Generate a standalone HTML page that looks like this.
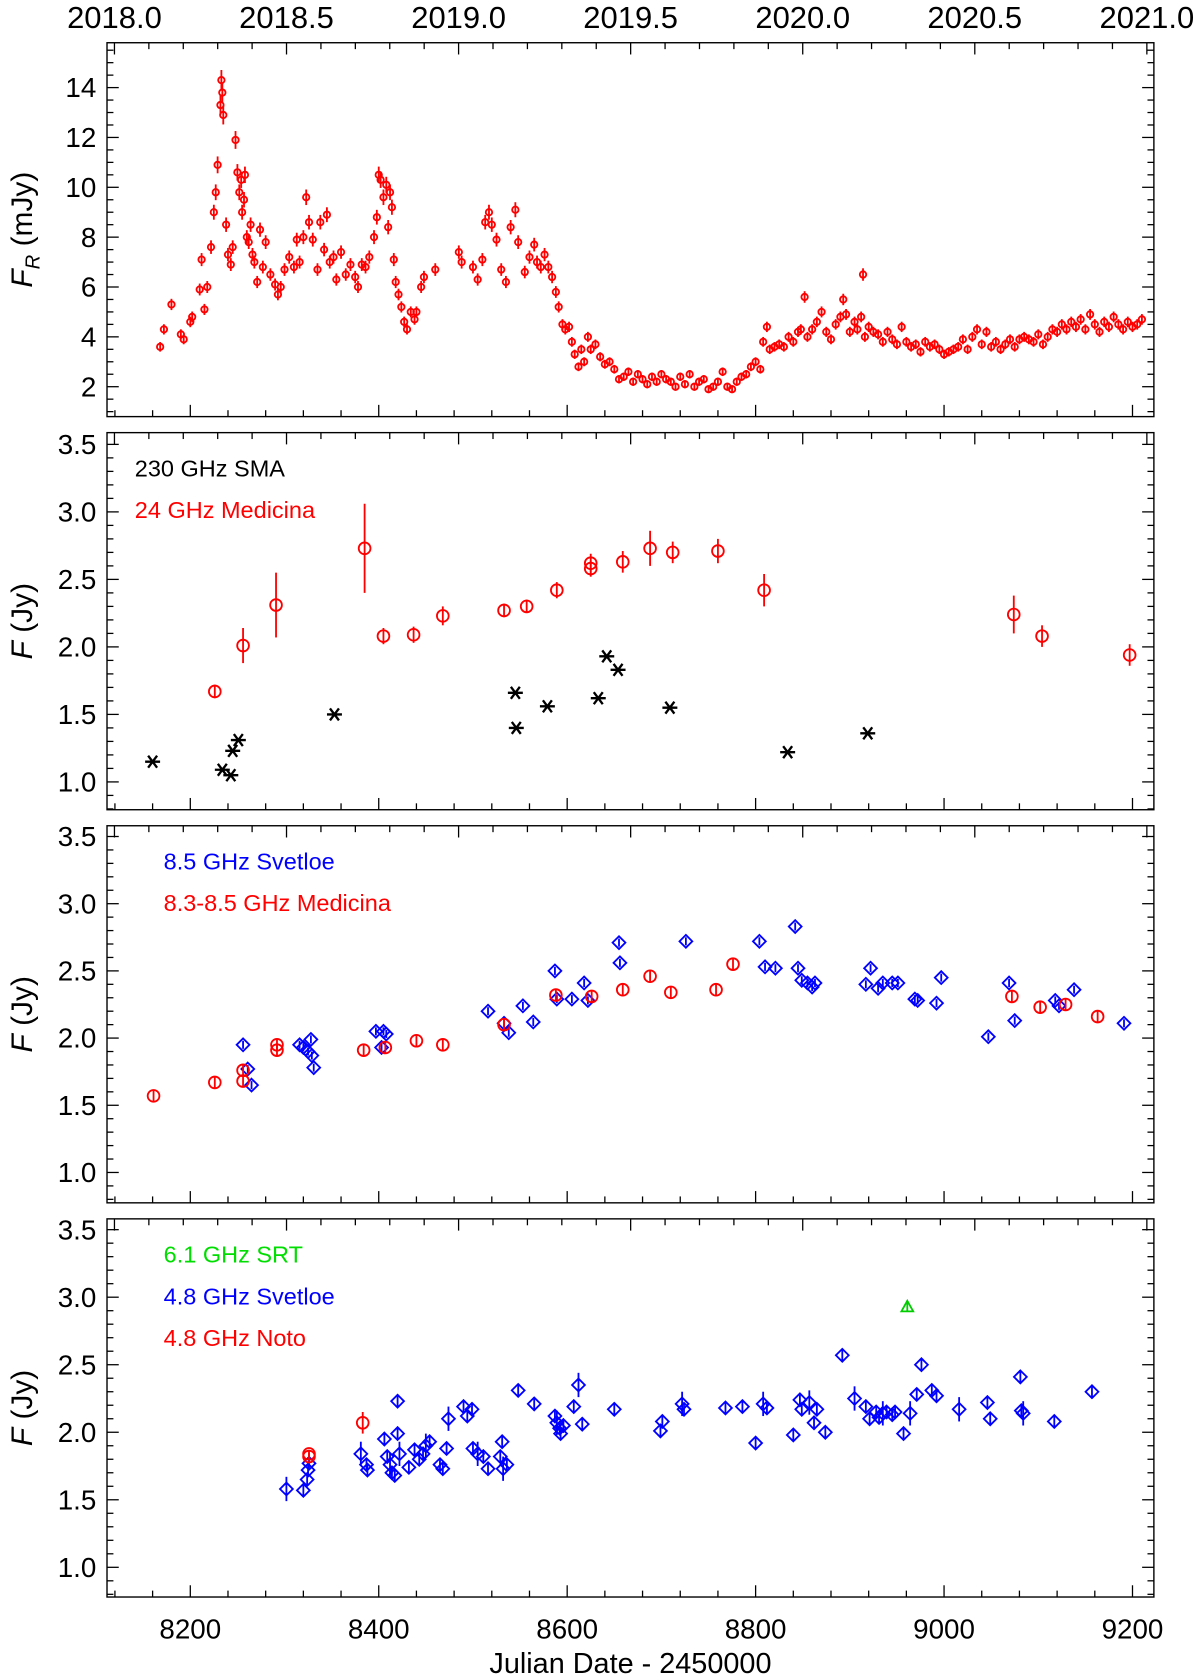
<!DOCTYPE html>
<html><head><meta charset="utf-8"><style>
html,body{margin:0;padding:0;background:#fff}
svg{display:block;font-family:"Liberation Sans",sans-serif}
</style></head><body>
<svg id="chart" width="1200" height="1675" viewBox="0 0 1123 1568" xmlns="http://www.w3.org/2000/svg"></svg>
<script>
// ---------- data ----------
const optDates=[8168,8172,8180,8190,8193,8200,8202,8210,8212,8215,8218,8222,8225,8227,8229,8232,8233,8234,8235,8238,8240,8243,8245,8248,8250,8252,8254,8255,8257,8258,8260,8262,8264,8266,8268,8271,8274,8277,8280,8285,8290,8293,8296,8300,8305,8310,8313,8316,8320,8323,8326,8330,8335,8338,8342,8345,8348,8352,8355,8360,8365,8370,8375,8378,8382,8386,8390,8395,8398,8400,8402,8405,8408,8410,8412,8414,8416,8418,8421,8424,8427,8430,8434,8438,8440,8445,8448,8460,8485,8488,8500,8505,8510,8513,8517,8520,8525,8530,8535,8540,8545,8548,8555,8560,8565,8568,8572,8576,8580,8584,8588,8591,8595,8598,8602,8605,8608,8612,8615,8618,8622,8625,8630,8635,8640,8645,8650,8655,8660,8665,8670,8675,8680,8685,8690,8695,8700,8705,8710,8715,8720,8725,8730,8735,8740,8745,8750,8755,8760,8765,8770,8775,8780,8785,8790,8795,8800,8805,8808,8812,8815,8820,8825,8830,8835,8840,8845,8848,8852,8855,8860,8865,8870,8875,8880,8885,8890,8893,8896,8900,8905,8908,8912,8914,8916,8920,8925,8930,8935,8940,8945,8950,8955,8960,8965,8970,8975,8980,8985,8990,8995,9000,9005,9010,9015,9020,9025,9030,9035,9040,9045,9050,9055,9060,9065,9070,9075,9080,9085,9090,9095,9100,9105,9110,9115,9120,9125,9130,9135,9140,9145,9150,9155,9160,9165,9170,9175,9180,9185,9190,9195,9200,9205,9210];
const optFlux=[3.6,4.3,5.3,4.1,3.9,4.6,4.8,5.9,7.1,5.1,6.0,7.6,9.0,9.8,10.9,13.3,14.3,13.8,12.9,8.5,7.3,6.9,7.6,11.9,10.6,9.8,10.3,9.0,9.5,10.5,8.0,7.8,8.5,7.3,7.0,6.2,8.3,6.8,7.8,6.5,6.1,5.7,6.0,6.7,7.2,6.8,7.9,7.0,8.0,9.6,8.6,7.9,6.7,8.6,7.5,8.9,7.0,7.2,6.3,7.4,6.5,6.9,6.4,6.0,6.9,6.8,7.2,8.0,8.8,10.5,10.3,9.6,10.1,8.4,9.8,9.2,7.1,6.2,5.7,5.2,4.6,4.3,5.0,4.7,5.0,6.0,6.4,6.7,7.4,7.0,6.8,6.3,7.1,8.6,9.0,8.5,7.9,6.7,6.2,8.4,9.1,7.8,6.6,7.2,7.7,7.0,6.8,7.3,6.8,6.4,5.8,5.2,4.5,4.3,4.4,3.8,3.3,2.8,3.5,3.0,4.0,3.5,3.7,3.2,2.9,3.0,2.7,2.3,2.4,2.6,2.2,2.5,2.3,2.1,2.4,2.2,2.5,2.3,2.2,2.0,2.4,2.1,2.5,2.0,2.2,2.3,1.9,2.0,2.2,2.6,2.0,1.9,2.2,2.4,2.5,2.8,3.0,2.7,3.8,4.4,3.5,3.6,3.7,3.6,4.0,3.8,4.2,4.3,5.6,4.0,4.3,4.6,5.0,4.2,3.9,4.5,4.8,5.5,4.9,4.2,4.6,4.3,4.8,6.5,4.0,4.4,4.2,4.1,3.8,4.2,3.9,3.7,4.4,3.8,3.6,3.7,3.4,3.8,3.6,3.7,3.5,3.3,3.4,3.5,3.6,3.9,3.5,4.0,4.3,3.7,4.2,3.6,3.8,3.5,3.7,3.9,3.6,3.9,4.0,3.9,3.8,4.1,3.7,4.0,4.3,4.2,4.5,4.3,4.6,4.4,4.7,4.3,4.9,4.5,4.2,4.6,4.4,4.8,4.5,4.3,4.6,4.4,4.5,4.7];

const med24Dates=[8226,8256,8291,8385,8405,8437,8468,8533,8557,8589,8625,8625,8659,8688,8712,8760,8809,9074,9104,9197];
const med24Flux=[1.67,2.01,2.31,2.73,2.08,2.09,2.23,2.27,2.30,2.42,2.62,2.58,2.63,2.73,2.70,2.71,2.42,2.24,2.08,1.94];
const med24Err=[0.05,0.13,0.24,0.33,0.06,0.06,0.07,0.05,0.05,0.06,0.07,0.06,0.08,0.13,0.08,0.09,0.12,0.14,0.08,0.08];
const sma230Dates=[8160,8234,8243,8245,8251,8353,8545,8546,8579,8633,8642,8654,8709,8834,8919];
const sma230Flux=[1.15,1.09,1.05,1.23,1.31,1.50,1.66,1.40,1.56,1.62,1.93,1.83,1.55,1.22,1.36];

const sv85Dates=[8256,8261,8265,8316,8320,8325,8328,8329,8331,8397,8403,8405,8408,8516,8533,8538,8553,8564,8587,8589,8605,8618,8622,8655,8656,8726,8804,8810,8821,8842,8845,8849,8855,8860,8863,8917,8922,8930,8935,8945,8951,8969,8972,8992,8997,9047,9069,9075,9118,9122,9138,9191];
const sv85Flux=[1.95,1.77,1.65,1.95,1.93,1.90,1.99,1.87,1.78,2.05,1.93,2.05,2.03,2.20,2.11,2.04,2.24,2.12,2.50,2.29,2.29,2.41,2.28,2.71,2.56,2.72,2.72,2.53,2.52,2.83,2.52,2.43,2.41,2.38,2.41,2.40,2.52,2.37,2.41,2.41,2.41,2.29,2.28,2.26,2.45,2.01,2.41,2.13,2.28,2.24,2.36,2.11];
const med85Dates=[8161,8226,8256,8256,8292,8292,8384,8407,8440,8468,8533,8588,8626,8659,8688,8710,8758,8776,9072,9102,9129,9163];
const med85Flux=[1.57,1.67,1.76,1.68,1.95,1.91,1.91,1.93,1.98,1.95,2.10,2.32,2.31,2.36,2.46,2.34,2.36,2.55,2.31,2.23,2.25,2.16];

const sv48Dates=[8302,8320,8324,8325,8326,8381,8387,8388,8406,8409,8412,8414,8417,8420,8420,8422,8432,8438,8443,8447,8450,8454,8465,8468,8472,8474,8490,8494,8499,8500,8505,8511,8516,8529,8531,8532,8536,8548,8565,8587,8589,8592,8593,8596,8607,8612,8616,8650,8699,8701,8722,8724,8768,8786,8800,8808,8812,8840,8847,8849,8857,8862,8865,8874,8892,8905,8917,8921,8928,8931,8935,8939,8945,8948,8957,8964,8971,8976,8987,8992,9016,9046,9049,9081,9082,9084,9117,9157];
const sv48Flux=[1.58,1.57,1.65,1.72,1.77,1.84,1.76,1.72,1.95,1.82,1.76,1.70,1.68,2.23,1.99,1.84,1.74,1.87,1.80,1.84,1.90,1.93,1.76,1.73,1.88,2.10,2.19,2.12,2.17,1.88,1.84,1.82,1.73,1.82,1.93,1.73,1.76,2.31,2.21,2.12,2.07,2.03,1.99,2.05,2.19,2.35,2.06,2.17,2.01,2.08,2.21,2.17,2.18,2.19,1.92,2.21,2.18,1.98,2.24,2.17,2.22,2.07,2.17,2.00,2.57,2.25,2.19,2.10,2.15,2.11,2.14,2.15,2.13,2.15,1.99,2.14,2.28,2.50,2.31,2.27,2.17,2.22,2.10,2.41,2.16,2.14,2.08,2.30];
const noto48Dates=[8326,8326,8383];
const noto48Flux=[1.84,1.82,2.07];
const srt61Dates=[8961];
const srt61Flux=[2.93];

const jdTicks=[8200,8400,8600,8800,9000,9200];
const yearTicks=["2018.0","2018.5","2019.0","2019.5","2020.0","2020.5","2021.0"];

// ---------- layout ----------
const svg=document.getElementById('chart');
const NS='http://www.w3.org/2000/svg';
const X0=100,X1=1080,D0=8111.6,D1=9222.7;
const xs=d=>X0+(d-D0)*(X1-X0)/(D1-D0);
const yearToJD=y=>(y-2018.0)*365.25+8119.5;
function mk(tag,attrs,parent){const e=document.createElementNS(NS,tag);for(const k in attrs)e.setAttribute(k,attrs[k]);(parent||svg).appendChild(e);return e;}
function txt(s,x,y,attrs,parent){const t=mk('text',Object.assign({x:x,y:y},attrs),parent);t.textContent=s;return t;}

const panels=[
 {name:'optical-panel',top:40,bot:390,v0:0.8,v1:15.8,major:2,minor:0.5,ticks:[2,4,6,8,10,12,14],fmt:v=>String(v)},
 {name:'mm-panel',top:405,bot:758,v0:0.794,v1:3.587,major:0.5,minor:0.1,ticks:[1.0,1.5,2.0,2.5,3.0,3.5],fmt:v=>v.toFixed(1)},
 {name:'8ghz-panel',top:773,bot:1126,v0:0.774,v1:3.58,major:0.5,minor:0.1,ticks:[1.0,1.5,2.0,2.5,3.0,3.5],fmt:v=>v.toFixed(1)},
 {name:'5ghz-panel',top:1141,bot:1495,v0:0.78,v1:3.58,major:0.5,minor:0.1,ticks:[1.0,1.5,2.0,2.5,3.0,3.5],fmt:v=>v.toFixed(1)}
];
panels.forEach(p=>{p.ys=v=>p.bot-(v-p.v0)*(p.bot-p.top)/(p.v1-p.v0);});

panels.forEach((p,i)=>{
 const g=mk('g',{});
 
 
 mk('rect',{x:X0,y:p.top,width:X1-X0,height:p.bot-p.top,fill:'none',stroke:'#000','stroke-width':1.3},g);
 for(let d=8120;d<=9220;d+=40){const x=xs(d);const L=(d%200===0)?11:6;
   mk('line',{x1:x,x2:x,y1:p.bot,y2:p.bot-L,stroke:'#000','stroke-width':1.2},g);}
 for(let k=0;k<=31;k++){const y=2018+k*0.1;const x=xs(yearToJD(y));if(x>X1+0.5)break;const L=(k%5===0)?11:6;
   mk('line',{x1:x,x2:x,y1:p.top,y2:p.top+L,stroke:'#000','stroke-width':1.2},g);}
 for(let v=Math.ceil(p.v0/p.minor)*p.minor;v<=p.v1;v+=p.minor){
   const vv=Math.round(v*1000)/1000;const y=p.ys(vv);
   const maj=Math.abs(vv/p.major-Math.round(vv/p.major))<1e-6;const L=maj?11:6;
   mk('line',{x1:X0,x2:X0+L,y1:y,y2:y,stroke:'#000','stroke-width':1.2},g);
   mk('line',{x1:X1,x2:X1-L,y1:y,y2:y,stroke:'#000','stroke-width':1.2},g);}
 p.ticks.forEach(v=>{const t=txt(p.fmt(v),90,p.ys(v)+9,{'text-anchor':'end','font-size':26},g);
   });
});
yearTicks.forEach(s=>{const t=txt(s,xs(yearToJD(parseFloat(s))),26,{'text-anchor':'middle','font-size':29});
 });
jdTicks.forEach(d=>{const t=txt(String(d),xs(d),1534,{'text-anchor':'middle','font-size':26});
 });
let xt=txt('Julian Date - 2450000',590,1566,{'text-anchor':'middle','font-size':27});


function ytitle(p,html,name){const t=mk('text',{x:0,y:0,'font-size':28,'text-anchor':'middle',transform:`translate(30,${(p.top+p.bot)/2}) rotate(-90)`});t.innerHTML=html;
 }
ytitle(panels[0],'<tspan font-style="italic">F</tspan><tspan font-style="italic" font-size="19" dy="7">R</tspan><tspan dy="-7"> (mJy)</tspan>','optical-y-axis-title');
ytitle(panels[1],'<tspan font-style="italic">F</tspan> (Jy)','mm-y-axis-title');
ytitle(panels[2],'<tspan font-style="italic">F</tspan> (Jy)','8ghz-y-axis-title');
ytitle(panels[3],'<tspan font-style="italic">F</tspan> (Jy)','5ghz-y-axis-title');

function leg(s,x,y,c,name){const t=txt(s,x,y,{'font-size':22,fill:c});}
leg('230 GHz SMA',126,446,'#000','legend-sma-230');
leg('24 GHz Medicina',126,485,'#f00','legend-medicina-24');
leg('8.5 GHz Svetloe',153,814,'#00f','legend-svetloe-8.5');
leg('8.3-8.5 GHz Medicina',153,853,'#f00','legend-medicina-8.3');
leg('6.1 GHz SRT',153,1182,'#0d0','legend-srt-6.1');
leg('4.8 GHz Svetloe',153,1221,'#00f','legend-svetloe-4.8');
leg('4.8 GHz Noto',153,1260,'#f00','legend-noto-4.8');

function series(p,dates,vals,errs,shape,color,size,sw,name){
 const g=mk('g',{fill:'none',stroke:color,'stroke-width':sw});
 
 dates.forEach((d,i)=>{const x=xs(d),y=p.ys(vals[i]);const e=errs?errs[i]:null;
  if(e!==null){const y1=p.ys(vals[i]+e),y2=p.ys(vals[i]-e);mk('line',{x1:x,x2:x,y1:y1,y2:y2},g);}
  let m;
  if(shape==='circle')m=mk('circle',{cx:x,cy:y,r:size},g);
  else if(shape==='diamond')m=mk('path',{d:`M${x} ${y-size}L${x+size} ${y}L${x} ${y+size}L${x-size} ${y}Z`},g);
  else if(shape==='triangle')m=mk('path',{d:`M${x} ${y-size}L${x+size} ${y+size*0.8}L${x-size} ${y+size*0.8}Z`},g);
  else {m=mk('path',{d:`M${x-size} ${y}L${x+size} ${y}M${x-size*0.6} ${y-size*0.8}L${x+size*0.6} ${y+size*0.8}M${x-size*0.6} ${y+size*0.8}L${x+size*0.6} ${y-size*0.8}`,'stroke-width':2.2},g);}
  
 });
}
series(panels[0],optDates,optFlux,optFlux.map(v=>0.12+v*0.02),'circle','#f00',3.0,1.7,'optical-r-band');
series(panels[1],med24Dates,med24Flux,med24Err,'circle','#f00',5.5,1.7,'medicina-24ghz');
series(panels[1],sma230Dates,sma230Flux,null,'star','#000',7,1.7,'sma-230ghz');
series(panels[2],sv85Dates,sv85Flux,sv85Dates.map(()=>0.03),'diamond','#00f',6,1.7,'svetloe-8.5ghz');
series(panels[2],med85Dates,med85Flux,med85Dates.map(()=>0.04),'circle','#f00',5.5,1.7,'medicina-8.3ghz');
series(panels[3],sv48Dates,sv48Flux,sv48Dates.map((d,i)=>(i%5===0?0.09:0.04)),'diamond','#00f',6,1.7,'svetloe-4.8ghz');
series(panels[3],noto48Dates,noto48Flux,[0.03,0.03,0.08],'circle','#f00',5.5,1.7,'noto-4.8ghz');
series(panels[3],srt61Dates,srt61Flux,[0.03],'triangle','#0c0',5.5,1.7,'srt-6.1ghz');
</script>
</body></html>
